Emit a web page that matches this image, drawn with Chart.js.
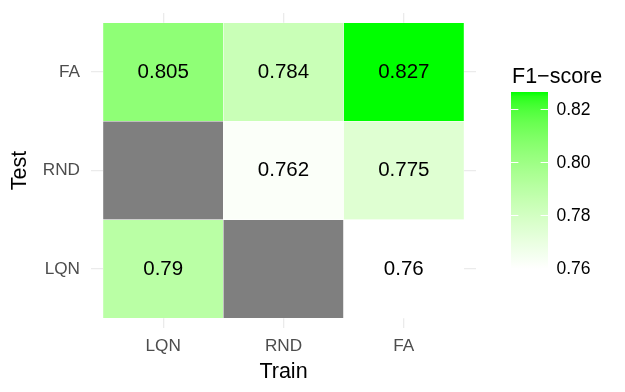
<!DOCTYPE html>
<html>
<head>
<meta charset="utf-8">
<script src="https://cdn.jsdelivr.net/npm/chart.js@4.4.1/dist/chart.umd.min.js"></script>
<style>
  html, body { margin: 0; padding: 0; background: #fff; }
  #wrap { width: 625px; height: 392px; }
</style>
</head>
<body>
<div id="wrap"><canvas id="chart" width="625" height="392"></canvas></div>
<script>
"use strict";

const TRAIN = ["LQN", "RND", "FA"]; // x categories
const TEST = ["LQN", "RND", "FA"]; // y categories, bottom to top
// F1-score for each Test row, one value per Train column (null = no run)
const F1_TEST_LQN = [0.79, null, 0.76];
const F1_TEST_RND = [null, 0.762, 0.775];
const F1_TEST_FA = [0.805, 0.784, 0.827];
const LEGEND_TICKS = [0.76, 0.78, 0.8, 0.82];

const ROWS = [F1_TEST_LQN, F1_TEST_RND, F1_TEST_FA];
const FILL_LOW = 0.76;
const FILL_HIGH = 0.827;
const NA_COLOR = "#7f7f7f";
const FONT = "'Liberation Sans', Arial, Helvetica, sans-serif";

// legend axis range, picked so the colorbar sits where ggplot puts it
const LEGEND_MIN = 0.737665;
const LEGEND_MAX = 0.856908;

// ---------------------------------------------------------------------------
// white -> green gradient, interpolated in Lab like scale_fill_gradient
// ---------------------------------------------------------------------------

const WHITE = [0.95047, 1, 1.08883];

function toLab([r, g, b]) {
  const lin = (c) => {
    c /= 255;
    return c <= 0.04045 ? c / 12.92 : Math.pow((c + 0.055) / 1.055, 2.4);
  };
  const R = lin(r), G = lin(g), B = lin(b);
  const xyz = [
    0.4124 * R + 0.3576 * G + 0.1805 * B,
    0.2126 * R + 0.7152 * G + 0.0722 * B,
    0.0193 * R + 0.1192 * G + 0.9505 * B,
  ];
  const f = (t) => (t > 0.008856 ? Math.cbrt(t) : 7.787 * t + 16 / 116);
  const [fx, fy, fz] = xyz.map((v, i) => f(v / WHITE[i]));
  return [116 * fy - 16, 500 * (fx - fy), 200 * (fy - fz)];
}

function fromLab([L, a, b]) {
  const fy = (L + 16) / 116;
  const fx = fy + a / 500;
  const fz = fy - b / 200;
  const inv = (t) => (t > 0.206893 ? t * t * t : (t - 16 / 116) / 7.787);
  const X = inv(fx) * WHITE[0], Y = inv(fy) * WHITE[1], Z = inv(fz) * WHITE[2];
  const lin = [
    3.2406 * X - 1.5372 * Y - 0.4986 * Z,
    -0.9689 * X + 1.8758 * Y + 0.0415 * Z,
    0.0557 * X - 0.204 * Y + 1.057 * Z,
  ];
  const out = lin.map((c) => {
    c = Math.min(1, Math.max(0, c));
    const s = c <= 0.0031308 ? 12.92 * c : 1.055 * Math.pow(c, 1 / 2.4) - 0.055;
    return Math.round(s * 255);
  });
  return `rgb(${out[0]}, ${out[1]}, ${out[2]})`;
}

const LAB_LOW = toLab([255, 255, 255]);
const LAB_HIGH = toLab([0, 255, 0]);

function fillColor(v) {
  const t = Math.min(1, Math.max(0, (v - FILL_LOW) / (FILL_HIGH - FILL_LOW)));
  return fromLab(LAB_LOW.map((c, i) => c + t * (LAB_HIGH[i] - c)));
}

// ---------------------------------------------------------------------------
// plugins: numbers in the tiles, colorbar legend
// ---------------------------------------------------------------------------

const cellLabels = {
  id: "cellLabels",
  afterDatasetsDraw(chart) {
    const ctx = chart.ctx;
    ctx.save();
    ctx.font = `20.5px ${FONT}`;
    ctx.fillStyle = "#000";
    ctx.textAlign = "center";
    ctx.textBaseline = "middle";
    chart.data.datasets.forEach((ds, d) => {
      chart.getDatasetMeta(d).data.forEach((bar, i) => {
        const v = ROWS[d][i];
        if (v == null) return;
        const p = bar.getCenterPoint();
        ctx.fillText(String(v), p.x, p.y);
      });
    });
    ctx.restore();
  },
};

const colorbar = {
  id: "colorbar",
  afterDraw(chart) {
    const f = chart.scales.f;
    const ctx = chart.ctx;
    const left = 511;
    const width = 37;
    const top = f.getPixelForValue(FILL_HIGH);
    const bottom = f.getPixelForValue(FILL_LOW);

    ctx.save();
    const grad = ctx.createLinearGradient(0, bottom, 0, top);
    const steps = 40;
    for (let i = 0; i <= steps; i++) {
      const t = i / steps;
      grad.addColorStop(t, fillColor(FILL_LOW + t * (FILL_HIGH - FILL_LOW)));
    }
    ctx.fillStyle = grad;
    ctx.fillRect(left, top, width, bottom - top);

    // little white ticks on both sides of the bar
    ctx.strokeStyle = "#ffffff";
    ctx.lineWidth = 1;
    const tl = width / 5;
    for (const t of LEGEND_TICKS) {
      const y = Math.round(f.getPixelForValue(t)) - 0.5;
      ctx.beginPath();
      ctx.moveTo(left, y);
      ctx.lineTo(left + tl, y);
      ctx.moveTo(left + width - tl, y);
      ctx.lineTo(left + width, y);
      ctx.stroke();
    }

    ctx.fillStyle = "#000";
    ctx.font = `21.5px ${FONT}`;
    ctx.textAlign = "left";
    ctx.textBaseline = "alphabetic";
    ctx.fillText("F1\u2212score", 512, 83);
    ctx.restore();
  },
};

// ---------------------------------------------------------------------------
// chart
// ---------------------------------------------------------------------------

Chart.defaults.font.family = FONT;

const datasets = ROWS.map((vals, r) => ({
  label: TEST[r],
  data: vals.map((_, c) => ({ x: c, y: [r - 0.5, r + 0.5] })),
  backgroundColor: vals.map((v) => (v == null ? NA_COLOR : fillColor(v))),
  borderColor: "#ffffff",
  borderWidth: 0.5,
  borderSkipped: false,
  grouped: false,
  barPercentage: 1,
  categoryPercentage: 1,
}));

const gridStyle = { color: "#ebebeb", lineWidth: 1.3, drawTicks: false, offset: false };
const tickFont = { size: 17.2 };
const titleFont = { size: 21.5 };
const fixedTicks = (vals) => (s) => {
  s.ticks = vals.map((value) => ({ value }));
};
// fixed axis box size; drop the label overhang padding so the panel stays put
const fixedSize = (prop, size) => (s) => {
  s[prop] = size;
  s.paddingTop = s.paddingBottom = s.paddingLeft = s.paddingRight = 0;
};

new Chart(document.getElementById("chart"), {
  type: "bar",
  data: { datasets },
  options: {
    responsive: false,
    animation: false,
    layout: { padding: { top: 13, right: 0, bottom: 0, left: 0 } },
    plugins: { legend: { display: false }, tooltip: { enabled: false } },
    scales: {
      x: {
        type: "linear",
        min: -0.6,
        max: 2.6,
        offset: false,
        grid: gridStyle,
        border: { display: false },
        afterBuildTicks: fixedTicks([0, 1, 2]),
        afterFit: fixedSize("height", 64),
        ticks: {
          callback: (v) => TRAIN[v],
          color: "#4d4d4d",
          font: tickFont,
          padding: 7.5,
          maxRotation: 0,
          autoSkip: false,
        },
        title: {
          display: true,
          text: "Train",
          color: "#000",
          font: titleFont,
          padding: { top: 0, bottom: 7.5 },
        },
      },
      y: {
        type: "linear",
        min: -0.6,
        max: 2.6,
        beginAtZero: false,
        grid: gridStyle,
        border: { display: false },
        afterBuildTicks: fixedTicks([0, 1, 2]),
        afterFit: fixedSize("width", 91),
        ticks: {
          callback: (v) => TEST[v],
          color: "#4d4d4d",
          font: tickFont,
          padding: 11,
          autoSkip: false,
        },
        title: {
          display: true,
          text: "Test",
          color: "#000",
          font: titleFont,
          padding: { top: 7, bottom: 0 },
        },
      },
      f: {
        type: "linear",
        axis: "y",
        position: "right",
        min: LEGEND_MIN,
        max: LEGEND_MAX,
        grid: { display: false, drawTicks: false },
        border: { display: false },
        afterBuildTicks: fixedTicks(LEGEND_TICKS),
        afterFit: fixedSize("width", 149),
        ticks: {
          callback: (v) => v.toFixed(2),
          color: "#000",
          font: { size: 17.5 },
          padding: 80.5,
          autoSkip: false,
        },
      },
    },
  },
  plugins: [cellLabels, colorbar],
});
</script>
</body>
</html>
